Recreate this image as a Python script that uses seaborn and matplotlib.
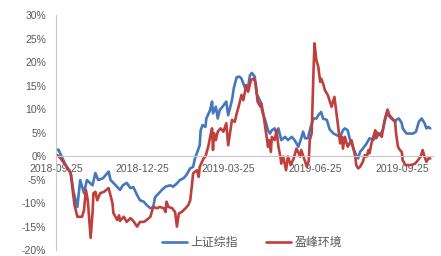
import seaborn as sns
import matplotlib.pyplot as plt
import matplotlib.dates as mdates
import pandas as pd

# DATA (day = days since 2018-09-25, value in %)
start = pd.Timestamp('2018-09-25')

sh_day = [1, 2, 9, 15, 18, 22, 25, 29, 32, 38, 41, 44, 49, 55, 57, 60, 67, 70, 74, 78,
          81, 85, 88, 92, 95, 99, 102, 104, 108, 111, 115, 120, 123, 127, 130, 134, 137, 141, 144, 146,
          148, 151, 152, 154, 157, 158, 162, 164, 165, 168, 170, 172, 175, 179, 181, 185, 187, 190, 193, 195,
          199, 202, 204, 206, 209, 211, 215, 217, 220, 223, 225, 227, 230, 232, 234, 237, 241, 244, 248, 251,
          255, 258, 260, 262, 265, 268, 271, 274, 276, 279, 281, 285, 288, 292, 295, 299, 302, 304, 307, 309,
          311, 313, 316, 318, 320, 323, 327, 330, 334, 336, 337, 341, 344, 346, 348, 351, 353, 357, 358, 361,
          364, 365, 369, 372, 376, 379, 382, 385, 388, 390, 392, 394]
sh_val = [1.3, 1.4, -1.6, -3.6, -7.6, -10.8, -5.1, -7.9, -5.1, -6.2, -3.6, -5.1, -4.7, -3.3, -5.1, -5.7, -7.2, -6.2, -5.7, -6.8,
          -6.6, -8.3, -9.4, -9.7, -10.4, -11.1, -10.8, -8.7, -7.9, -7.2, -6.5, -6.2, -6.5, -5.8, -5.1, -4.7, -4.0, -2.6, -2.3, -0.5,
          0.6, 2.3, 5.5, 6.6, 6.2, 8.0, 9.8, 11.6, 9.1, 10.5, 8.0, 9.8, 10.5, 11.6, 8.7, 11.9, 14.5, 16.8, 16.9, 16.5,
          14.4, 14.7, 17.2, 17.7, 16.9, 13.3, 11.6, 9.4, 7.7, 5.5, 4.8, 5.5, 5.9, 4.8, 5.9, 3.4, 4.1, 3.4, 4.1, 3.4,
          2.0, 3.8, 5.2, 3.8, 3.8, 6.2, 8.0, 8.0, 8.7, 9.4, 8.0, 7.7, 5.7, 4.8, 4.5, 4.1, 5.5, 5.9, 5.5, 3.8,
          2.7, 1.6, 0.2, -0.5, 0.9, 1.6, 2.7, 3.8, 3.4, 4.1, 5.2, 4.5, 5.5, 7.3, 9.1, 8.4, 8.0, 7.3, 7.7, 8.0,
          7.0, 5.9, 4.8, 4.8, 4.8, 5.2, 7.3, 8.0, 7.0, 5.9, 6.2, 5.9]

yf_day = [1, 4, 8, 15, 17, 19, 22, 27, 29, 31, 33, 36, 38, 39, 41, 43, 46, 50, 55, 59,
          60, 64, 66, 67, 71, 74, 78, 81, 85, 88, 92, 95, 99, 102, 106, 109, 113, 115, 116, 118,
          122, 125, 127, 129, 132, 136, 139, 141, 143, 144, 148, 150, 151, 155, 157, 160, 162, 164, 165, 166,
          168, 170, 173, 176, 179, 181, 185, 188, 190, 192, 195, 197, 200, 202, 205, 208, 210, 212, 215, 216,
          218, 221, 223, 224, 226, 227, 230, 232, 234, 236, 237, 239, 242, 244, 247, 250, 253, 257, 258, 261,
          264, 266, 267, 269, 271, 272, 274, 276, 278, 279, 281, 283, 286, 290, 293, 297, 299, 301, 302, 304,
          307, 311, 313, 315, 316, 318, 320, 323, 325, 327, 329, 330, 332, 334, 336, 337, 340, 343, 344, 346,
          349, 351, 354, 357, 358, 360, 362, 364, 365, 368, 371, 374, 378, 381, 384, 386, 388, 390, 392, 394]
yf_val = [0.2, -0.4, -1.5, -3.6, -7.2, -10.4, -12.9, -12.9, -11.5, -7.2, -9.4, -17.4, -12.1, -7.9, -7.6, -9.4, -7.9, -7.6, -6.8, -10.0,
          -12.1, -13.6, -12.6, -13.8, -12.9, -14.0, -13.2, -13.8, -15.0, -14.0, -14.0, -13.6, -12.9, -10.8, -11.1, -10.8, -11.1, -11.9, -9.7, -10.8,
          -11.1, -11.9, -15.0, -12.2, -11.9, -11.1, -10.4, -9.4, -5.8, -3.7, -3.0, -4.4, -2.3, -0.5, -0.1, 2.0, 4.1, 5.9, 1.3, 4.9,
          3.4, 5.2, 5.9, 5.2, 7.0, 2.3, 7.7, 7.3, 9.1, 10.5, 13.0, 11.9, 15.1, 13.7, 16.2, 16.5, 15.5, 11.6, 10.5, 11.2,
          9.1, 4.8, 2.0, 3.4, 0.9, 4.1, 3.4, 5.5, 2.0, -0.1, -1.6, -0.1, -3.0, -0.1, -1.9, -0.5, 1.6, -0.1, 1.3, -0.5,
          -2.3, -0.9, 3.4, 4.8, 18.3, 24.0, 20.4, 19.0, 15.8, 16.5, 15.5, 14.0, 13.0, 10.5, 12.6, 6.2, 2.7, 4.1, 1.6, 4.1,
          2.0, 3.4, 1.6, -0.1, -1.9, -2.6, -2.3, -1.2, 0.2, -0.1, 1.3, 0.6, 2.7, 4.1, 5.5, 3.8, 4.8, 4.1, 5.5, 7.7,
          9.9, 8.7, 8.0, 7.3, 4.8, 2.0, 1.3, 0.9, -0.9, -1.9, -1.9, -1.9, -1.6, -0.9, -0.1, 1.3, -0.1, -1.2, -0.5, -0.5]

series_names = ['上证综指', '盈峰环境']
tick_dates = ['2018-09-25', '2018-12-25', '2019-03-25', '2019-06-25', '2019-09-25']
y_ticks = [-20, -15, -10, -5, 0, 5, 10, 15, 20, 25, 30]

df = pd.concat([
    pd.DataFrame({'date': start + pd.to_timedelta(sh_day, unit='D'), 'value': sh_val, 'series': series_names[0]}),
    pd.DataFrame({'date': start + pd.to_timedelta(yf_day, unit='D'), 'value': yf_val, 'series': series_names[1]}),
])

# STYLE
sns.set_theme(style="white")
plt.rcParams['font.family'] = ['Liberation Sans', 'Noto Sans CJK SC']

fig = plt.figure(figsize=(4.41, 2.56), dpi=100)
ax = fig.add_axes([0.127, 0.023, 0.855, 0.918])

sns.lineplot(data=df, x='date', y='value', hue='series', ax=ax,
             palette={'上证综指': '#4677be', '盈峰环境': '#be3f3c'}, linewidth=1.9)

# AXES
ax.set_ylim(-20, 30)
ax.set_xlim(start - pd.Timedelta(days=0.5), start + pd.Timedelta(days=397))
ax.set_yticks(y_ticks)
ax.set_yticklabels([f'{t}%' for t in y_ticks])
ax.set_xticks(pd.to_datetime(tick_dates))
ax.xaxis.set_major_formatter(mdates.DateFormatter('%Y-%m-%d'))
ax.set_xlabel('')
ax.set_ylabel('')

ax.spines['top'].set_visible(False)
ax.spines['right'].set_visible(False)
ax.spines['bottom'].set_position(('data', 0))
for s in ['left', 'bottom']:
    ax.spines[s].set_color('#c8c8c8')
    ax.spines[s].set_linewidth(0.8)
ax.tick_params(axis='both', which='major', direction='out', length=3, width=0.8,
               color='#c8c8c8', labelsize=7.5, labelcolor='#595959')
ax.tick_params(axis='y', pad=4)
ax.tick_params(axis='x', pad=3)

# LEGEND
ax.legend(loc='center', bbox_to_anchor=(0.52, 0.03), ncol=2, frameon=False,
          fontsize=8.6, handlelength=2.1, handletextpad=0.3, columnspacing=2.4,
          labelcolor='#595959')

fig.savefig('out.png', dpi=100)
